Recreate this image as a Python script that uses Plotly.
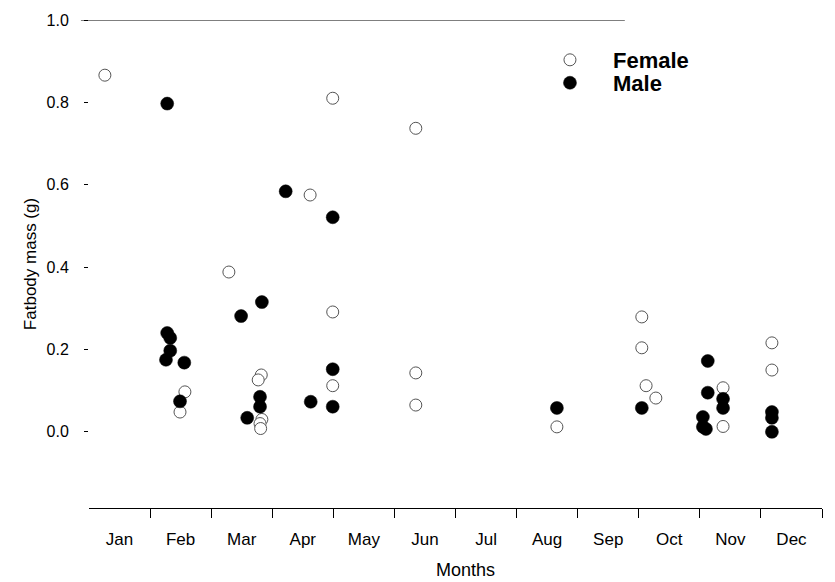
import plotly.graph_objects as go

months = ["Jan", "Feb", "Mar", "Apr", "May", "Jun", "Jul", "Aug", "Sep", "Oct", "Nov", "Dec"]
month_pos = [1, 2, 3, 4, 5, 6, 7, 8, 9, 10, 11, 12]
month_bounds = [1.5, 2.5, 3.5, 4.5, 5.5, 6.5, 7.5, 8.5, 9.5, 10.5, 11.5, 12.5]
y_ticks = [0.0, 0.2, 0.4, 0.6, 0.8, 1.0]
y_ticktext = ["0.0", "0.2", "0.4", "0.6", "0.8", "1.0"]

# Female (open circles): jittered month position, fatbody mass (g)
female_x = [0.76, 2.07, 1.99, 3.32, 3.27, 3.33, 3.30, 3.31, 2.79, 4.12, 4.49, 4.49, 4.49,
            5.85, 5.85, 5.85, 8.16, 9.55, 9.55, 9.62, 9.78, 10.88, 10.88, 11.68, 11.68]
female_y = [0.866, 0.097, 0.048, 0.138, 0.126, 0.030, 0.020, 0.008, 0.388, 0.575, 0.810, 0.291, 0.112,
            0.737, 0.143, 0.065, 0.012, 0.279, 0.204, 0.112, 0.082, 0.107, 0.013, 0.216, 0.150]

# Male (filled circles)
male_x = [1.78, 1.78, 1.83, 1.83, 1.76, 2.06, 1.99, 2.99, 3.33, 3.30, 3.30, 3.09, 3.72,
          4.49, 4.49, 4.13, 4.49, 8.16, 9.55, 10.63, 10.63, 10.88, 10.88, 10.55, 10.55, 10.60,
          11.68, 11.68, 11.68]
male_y = [0.797, 0.240, 0.228, 0.197, 0.175, 0.168, 0.074, 0.281, 0.315, 0.085, 0.061, 0.034, 0.584,
          0.521, 0.152, 0.073, 0.061, 0.058, 0.058, 0.172, 0.095, 0.080, 0.058, 0.036, 0.012, 0.007,
          0.048, 0.034, 0.000]

FONT = "Liberation Sans, Arial, sans-serif"

fig = go.Figure()
fig.add_trace(go.Scatter(
    x=female_x, y=female_y, mode="markers", name="Female", legend="legend",
    marker=dict(size=12, color="white", line=dict(color="#555555", width=1)),
))
fig.add_trace(go.Scatter(
    x=male_x, y=male_y, mode="markers", name="Male", legend="legend2",
    marker=dict(size=13, color="black", line=dict(color="black", width=0.5)),
))

# top border line at y = 1.0 (partial, as in the scan)
fig.add_shape(type="line", xref="paper", yref="y", x0=-0.011, x1=0.731, y0=1.0, y1=1.0,
              line=dict(color="black", width=1))

# x axis title (slightly right of plot centre, as in the reference)
fig.add_annotation(text="Months", xref="paper", yref="paper", x=0.514, y=-0.128,
                   xanchor="center", yanchor="middle", showarrow=False,
                   font=dict(family=FONT, size=18, color="black"))

legend_common = dict(
    xanchor="left", yanchor="middle",
    font=dict(family=FONT, size=22, color="black", weight="bold"),
    bgcolor="rgba(0,0,0,0)", itemwidth=76, tracegroupgap=0,
)

fig.update_layout(
    width=835, height=582,
    margin=dict(l=89, r=13, t=20, b=74),
    paper_bgcolor="white", plot_bgcolor="white",
    font=dict(family=FONT, color="black", size=16),
    showlegend=True,
    legend=dict(x=0.5975, y=0.918, **legend_common),
    legend2=dict(x=0.5975, y=0.871, **legend_common),
    xaxis=dict(
        range=[0.5, 12.5], tickvals=month_pos, ticktext=months, ticks="",
        showline=True, linecolor="black", linewidth=1, showgrid=False, zeroline=False,
        ticklabelstandoff=16,
        minor=dict(tickvals=month_bounds, ticks="outside", ticklen=9, tickcolor="black", tickwidth=1),
        tickfont=dict(size=17),
    ),
    yaxis=dict(
        range=[-0.185, 1.0], tickvals=y_ticks, ticktext=y_ticktext,
        ticks="outside", ticklen=4, tickcolor="black", showline=False, showgrid=False, zeroline=False,
        ticklabelstandoff=12,
        title=dict(text="Fatbody mass (g)", font=dict(size=17), standoff=5),
        tickfont=dict(size=16),
    ),
)

fig.write_html("out.html")
